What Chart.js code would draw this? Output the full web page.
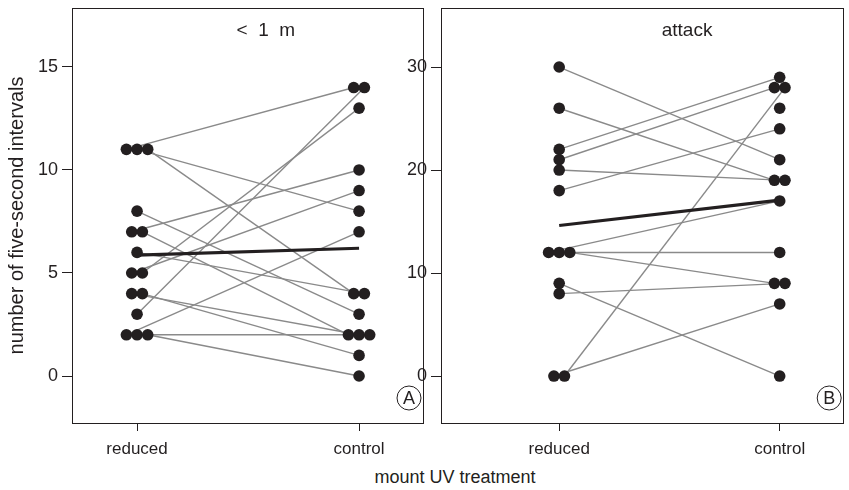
<!DOCTYPE html>
<html>
<head>
<meta charset="utf-8">
<script src="https://cdn.jsdelivr.net/npm/chart.js@4.4.0/dist/chart.umd.min.js"></script>
<style>
  body { margin: 0; background: #fff; width: 849px; height: 490px; position: relative; overflow: hidden; }
  canvas { position: absolute; top: 0; }
  #left { left: 0; }
  #right { left: 395px; }
  #xtitle { position: absolute; left: 455px; top: 467px; transform: translateX(-50%);
            font: 18px "Liberation Sans", Arial, sans-serif; color: #231f20; white-space: nowrap; }
</style>
</head>
<body>
<canvas id="left" width="430" height="465"></canvas>
<canvas id="right" width="454" height="465"></canvas>
<div id="xtitle">mount UV treatment</div>
<script>
// one entry per subject: reduced value, control value
var reducedA = [11, 11, 11, 8, 7, 7, 6, 5, 5, 4, 4, 3, 2, 2, 2];
var controlA = [14, 8, 4, 3, 10, 2, 4, 9, 13, 2, 1, 14, 7, 2, 0];
var reducedB = [30, 26, 22, 21, 20, 18, 12, 12, 12, 9, 8, 0, 0, null];
var controlB = [21, 19, 29, 28, 19, 24, 17, 12, 9, 0, 9, 7, 28, 26];
var treatments = ['reduced', 'control'];
var ticksA = [0, 5, 10, 15];
var ticksB = [0, 10, 20, 30];

var INK = '#231f20';
var GREY = '#8a8a8a';
var FONT = '"Liberation Sans", Arial, sans-serif';
var STEP = 0.048; // side-by-side spacing of tied dots

// spread tied values sideways
function spread(vals) {
  var total = {}, seen = {};
  vals.forEach(function (v) { if (v !== null) total[v] = (total[v] || 0) + 1; });
  return vals.map(function (v) {
    if (v === null) return null;
    seen[v] = (seen[v] || 0) + 1;
    return (seen[v] - 1 - (total[v] - 1) / 2) * STEP;
  });
}

function pairedMean(a, b, which) {
  var s = 0, n = 0;
  a.forEach(function (v, i) {
    if (v !== null && b[i] !== null) { s += (which == 0 ? v : b[i]); n++; }
  });
  return s / n;
}

var panelPlugin = {
  id: 'panel',
  afterDraw: function (chart) {
    var o = chart.options.plugins.panel;
    var a = chart.chartArea, ctx = chart.ctx;
    ctx.save();
    ctx.strokeStyle = INK;
    ctx.lineWidth = 1;
    ctx.strokeRect(Math.round(a.left) + 0.5, Math.round(a.top) + 0.5,
                   Math.round(a.right - a.left), Math.round(a.bottom - a.top));
    ctx.fillStyle = INK;
    ctx.textAlign = 'center';
    ctx.textBaseline = 'middle';
    ctx.font = '19px ' + FONT;
    ctx.fillText(o.title, chart.scales.x.getPixelForValue(0.58), a.top + 23);
    var cx = a.right - 14, cy = a.bottom - 25;
    ctx.beginPath();
    ctx.arc(cx, cy, 12, 0, Math.PI * 2);
    ctx.stroke();
    ctx.font = '18px ' + FONT;
    ctx.fillText(o.letter, cx, cy + 1);
    ctx.restore();
  }
};

function noPad(s) {
  s.paddingTop = 0; s.paddingBottom = 0; s.paddingLeft = 0; s.paddingRight = 0;
}

function makeChart(id, reduced, control, ticks, cfg) {
  var offR = spread(reduced), offC = spread(control);
  var datasets = [];
  var dots = [];
  reduced.forEach(function (r, i) {
    var c = control[i];
    if (r !== null) dots.push({ x: offR[i], y: r });
    if (c !== null) dots.push({ x: 1 + offC[i], y: c });
    if (r !== null && c !== null) {
      datasets.push({
        data: [{ x: offR[i], y: r }, { x: 1 + offC[i], y: c }],
        showLine: true, borderColor: GREY, borderWidth: 1.4,
        pointRadius: 0, order: 3
      });
    }
  });
  datasets.push({
    data: [{ x: 0, y: pairedMean(reduced, control, 0) }, { x: 1, y: pairedMean(reduced, control, 1) }],
    showLine: true, borderColor: INK, borderWidth: 3.2, pointRadius: 0, order: 2
  });
  datasets.push({
    data: dots, showLine: false, pointRadius: 5.8, pointHoverRadius: 5.8,
    backgroundColor: INK, borderColor: INK, borderWidth: 0, order: 1
  });

  return new Chart(document.getElementById(id).getContext('2d'), {
    type: 'scatter',
    data: { datasets: datasets },
    plugins: [panelPlugin],
    options: {
      responsive: false,
      animation: false,
      layout: { padding: { top: 8, right: cfg.padRight, left: 0, bottom: 0 } },
      plugins: {
        legend: { display: false },
        tooltip: { enabled: false },
        panel: { title: cfg.title, letter: cfg.letter }
      },
      scales: {
        x: {
          type: 'linear', min: cfg.xmin, max: 1.288,
          afterBuildTicks: function (s) { s.ticks = [{ value: 0 }, { value: 1 }]; },
          afterFit: function (s) { s.height = 42; noPad(s); },
          ticks: {
            callback: function (v) { return treatments[v]; },
            color: INK, font: { size: 17, family: FONT }, padding: 8, maxRotation: 0, autoSkip: false
          },
          grid: { drawOnChartArea: false, tickLength: 8, color: INK },
          border: { display: false }
        },
        y: {
          min: cfg.ymin, max: cfg.ymax,
          afterBuildTicks: function (s) { s.ticks = ticks.map(function (v) { return { value: v }; }); },
          afterFit: function (s) { s.width = cfg.yWidth; noPad(s); },
          ticks: { color: INK, font: { size: 18, family: FONT }, padding: 4 },
          grid: { drawOnChartArea: false, tickLength: 10, color: INK },
          border: { display: false },
          title: {
            display: cfg.yTitle !== '', text: cfg.yTitle, color: INK,
            font: { size: 20, family: FONT }, padding: { top: 5, bottom: 0 }
          }
        }
      }
    }
  });
}

makeChart('left', reducedA, controlA, ticksA, {
  title: '<  1  m', letter: 'A', xmin: -0.293, ymin: -2.28, ymax: 17.86,
  yWidth: 72, padRight: 7, yTitle: 'number of five-second intervals'
});
makeChart('right', reducedB, controlB, ticksB, {
  title: 'attack', letter: 'B', xmin: -0.536, ymin: -4.56, ymax: 35.73,
  yWidth: 46, padRight: 3, yTitle: ''
});
</script>
</body>
</html>
